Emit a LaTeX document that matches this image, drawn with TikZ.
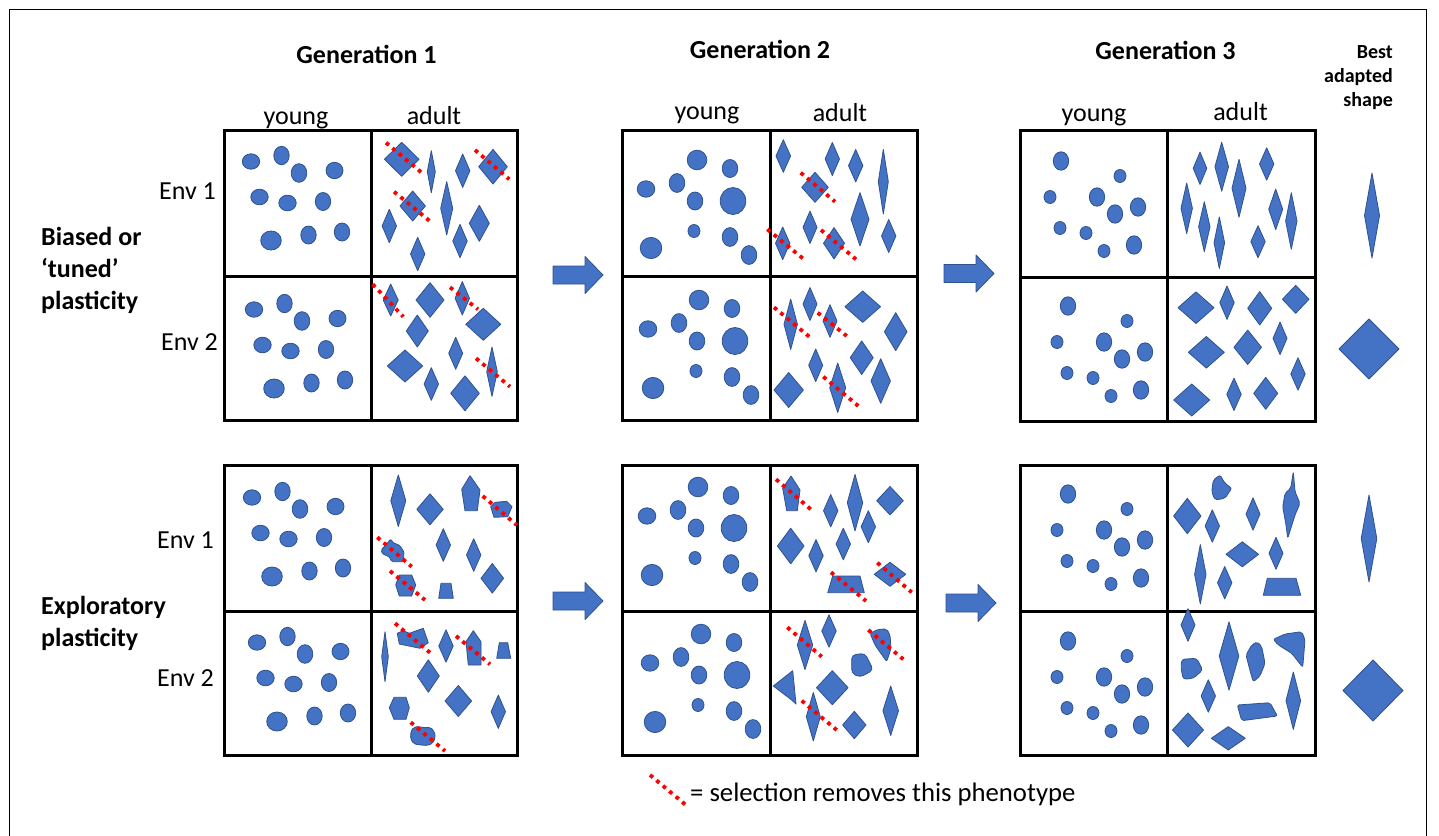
\documentclass[tikz,border=0pt]{standalone}
\usepackage{fontspec}
\setmainfont{Carlito}
\definecolor{blu}{HTML}{4472C4}
\definecolor{blued}{HTML}{2F528F}
\tikzset{
  shp/.style={fill=blu,draw=blued,line width=0.8pt,line join=round},
  selx/.style={draw=red,line width=3.8pt,dash pattern=on 3.8pt off 4.6pt},
  gridbox/.style={draw=black,line width=3pt},
  lab/.style={font=\fontsize{26}{30}\selectfont,inner sep=0pt},
  blab/.style={font=\fontsize{26}{30}\selectfont\bfseries,inner sep=0pt},
  slab/.style={font=\fontsize{20}{24}\selectfont\bfseries,inner sep=0pt}
}
\newcommand\dm[4]{\path[shp] (#1-#3,#2) -- (#1,#2-#4) -- (#1+#3,#2) -- (#1,#2+#4) -- cycle;}
\newcommand\ov[4]{\path[shp] (#1,#2) ellipse [x radius=#3, y radius=#4];}
\newcommand\sel[4]{\path[selx] (#1,#2) -- (#3,#4);}
\newcommand\blk[2]{\path[shp] (#1,#2-9) -- (#1+32,#2-9) -- (#1+32,#2-18.5) -- (#1+50,#2) -- (#1+32,#2+18.5) -- (#1+32,#2+9) -- (#1,#2+9) -- cycle;}
\newcommand\grd[6]{\path[gridbox] (#1,#4) rectangle (#3,#6) (#2,#4) -- (#2,#6) (#1,#5) -- (#3,#5);}
\newcommand\yA{\ov{27}{31.5}{8.7}{7.7}\ov{57.5}{25.5}{7.7}{9.2}\ov{75}{43}{7.8}{9.3}\ov{110.5}{40.5}{8.5}{8.2}\ov{35.5}{67}{8.7}{7.8}\ov{63.5}{73}{8.7}{7.8}\ov{99}{71.5}{7.7}{9}\ov{47}{110.5}{10.3}{9.5}\ov{84.5}{105}{7.7}{9}\ov{118}{102}{7.7}{9}}
\newcommand\yB{\ov{75}{30}{9.8}{9.8}\ov{108}{38.5}{7.8}{9}\ov{24}{59}{8.8}{8.2}\ov{55}{53}{7.8}{9.4}\ov{73}{71}{7.8}{9}\ov{111}{71}{12.8}{13.5}\ov{72}{101}{6}{6.5}\ov{108}{107}{7.8}{9.4}\ov{29}{118}{10.8}{10.6}\ov{127}{125}{7.8}{9.4}}
\newcommand\yC{\ov{41}{31}{7.7}{9.2}\ov{100}{46}{6}{6.5}\ov{30}{67}{6}{6.5}\ov{77}{67}{7.7}{9.2}\ov{95}{84}{7.7}{9.2}\ov{118}{77}{7.7}{9.2}\ov{40}{98}{6}{6.5}\ov{66}{103}{6}{6.5}\ov{84}{121}{6}{6.5}\ov{114}{115}{7.7}{9.2}}
\begin{document}
\begin{tikzpicture}[x=1pt,y=-1pt]
\useasboundingbox (0,0) rectangle (1439,835);
\fill[white] (0,0) rectangle (1439,835);
% outer frame
\draw[line width=1.5pt] (9.5,840) -- (9.5,9.5) -- (1426.5,9.5) -- (1426.5,840);
% grids
\grd{224}{371}{517}{130}{276}{420}
\grd{622}{770}{917}{130}{276}{420}
\grd{1020}{1167}{1315}{130}{277}{421}
\grd{224}{371}{517}{465}{611}{755}
\grd{622}{770}{917}{465}{611}{755}
\grd{1020}{1167}{1315}{465}{611}{755}
% young
\begin{scope}[shift={(224,130)}]\yA\end{scope}
\begin{scope}[shift={(227,278)}]\yA\end{scope}
\begin{scope}[shift={(225,466)}]\yA\end{scope}
\begin{scope}[shift={(230,611)}]\yA\end{scope}
\begin{scope}[shift={(622,130)}]\yB\end{scope}
\begin{scope}[shift={(624,270)}]\yB\end{scope}
\begin{scope}[shift={(623,457)}]\yB\end{scope}
\begin{scope}[shift={(626,604)}]\yB\end{scope}
\begin{scope}[shift={(1020,130)}]\yC\end{scope}
\begin{scope}[shift={(1027,275)}]\yC\end{scope}
\begin{scope}[shift={(1027,463)}]\yC\end{scope}
\begin{scope}[shift={(1027,610)}]\yC\end{scope}
% gen1 top adult
\dm{401.7}{159.3}{17.3}{17}\dm{431.3}{171.7}{4}{21}\dm{462.7}{170.7}{7.2}{16.7}\dm{493}{166.7}{14.3}{17.3}
\dm{412.7}{206}{12.7}{15}\dm{446.7}{208.3}{6}{26.7}\dm{479.3}{223.3}{10}{18}\dm{389.3}{226}{7.2}{16.7}
\dm{460}{241}{7.2}{16.7}\dm{417.7}{254}{7.2}{16.7}
% gen1 bottom adult
\dm{390.7}{300}{7.5}{16}\dm{430}{300}{14}{17.3}\dm{462.3}{298.3}{7.2}{16.7}\dm{483.3}{324.3}{17.5}{16}
\dm{417.3}{331}{11}{16}\dm{455.7}{353.3}{7}{16}\dm{405}{366}{17.7}{16}\dm{492}{371.7}{5.3}{24.7}
\dm{431.3}{384}{7.2}{16.3}\dm{465}{393.3}{14.3}{17.5}
% gen2 top adult
\dm{783.3}{156}{7.3}{16.3}\dm{832.3}{159}{7.2}{16.5}\dm{855.7}{165.7}{7.2}{16.2}\dm{883.3}{181.7}{5}{32.3}
\dm{815}{187.3}{13.3}{15}\dm{860}{219.3}{9}{26.7}\dm{810}{227.3}{7}{16.2}\dm{782.7}{243.3}{7.2}{16.3}
\dm{834}{243.3}{10.5}{15.7}\dm{888.7}{236}{7.2}{16.5}
% gen2 bottom adult
\dm{790.7}{324.3}{6.7}{25.2}\dm{810}{304}{7}{16.5}\dm{830}{321}{7}{16.3}\dm{862.7}{306.7}{17.8}{15.7}
\dm{895.7}{331.7}{11.3}{19}\dm{861.7}{357.7}{11.5}{16.8}\dm{815.7}{365.3}{7}{16.3}\dm{788.7}{390}{14.7}{17.5}
\dm{837.7}{387.7}{8}{24.7}\dm{880.7}{381}{9.7}{22.3}
% gen3 top adult
\dm{1200}{168.3}{6.8}{16.2}\dm{1221.7}{166.7}{6.8}{24.5}\dm{1239}{188.3}{7}{29}\dm{1266.7}{164}{7.2}{16.2}
\dm{1186.7}{208.3}{5.7}{25.3}\dm{1204.3}{226.7}{5.7}{25}\dm{1219.3}{242.7}{5.3}{25.8}\dm{1275.7}{209.3}{7}{20.3}
\dm{1291.3}{221}{5.7}{28.3}\dm{1258}{241.7}{7.2}{16}
% gen3 bottom adult
\dm{1196}{307.7}{18}{15.8}\dm{1227}{302.7}{7.2}{16.7}\dm{1259.7}{308.3}{12}{16.7}\dm{1295.7}{299.3}{13.3}{14}
\dm{1206.3}{352.3}{18}{15.8}\dm{1247.7}{347.3}{13.8}{17.2}\dm{1280}{338.3}{7}{16.3}\dm{1298}{374}{7.2}{16.2}
\dm{1191.7}{400}{18}{16}\dm{1234}{394.3}{7.2}{16.2}\dm{1265.7}{393.3}{12}{16}
% best adapted
\dm{1372}{215.5}{7.5}{42.5}\dm{1369}{349}{30}{30}\dm{1369}{538.5}{7.8}{43.5}\dm{1373}{690.5}{30}{30.5}
% lower gen1 top adult
\dm{398.3}{500.7}{7.5}{25.8}\dm{430}{509.3}{13.2}{15.5}
\path[shp] (470,475.7)--(480,490)--(477.3,510.7)--(465,510.7)--(461.7,489.3)--cycle;
\path[shp] (490.7,506.7)--(495,502.3)--(506.7,501.3)--(512,506.7)--(507.7,516.7)--(494,517.3)--cycle;
\dm{443.3}{545}{7.2}{16.3}\dm{473.7}{555}{7.2}{16.3}\dm{492.3}{578.3}{11.3}{14.8}
\path[shp,rounded corners=1.5pt] (381,550)--(385,546)--(391,538.7)--(392.7,542.7)--(399.3,545)--(404,551.7)--(403.3,561.7)--(391.7,561.7)--(389.3,556.7)--(382.7,554)--cycle;
\path[shp] (399.3,575)--(411.7,575)--(415.7,585)--(411.7,596)--(399.3,596)--(395.7,585)--cycle;
\path[shp] (441,583.3)--(451,583.3)--(453.3,598.3)--(438.7,598.3)--cycle;
% lower gen1 bottom adult
\dm{385}{656.7}{3.3}{25}
\path[shp] (397.3,633.3)--(403.3,630.7)--(409.3,633.3)--(423.3,628.3)--(428.3,642.7)--(420,648.3)--(399.3,644)--cycle;
\dm{446}{646}{7.2}{16.2}
\path[shp] (473.3,630.7)--(481,641.7)--(481,665)--(468.3,665)--(466,641.7)--cycle;
\path[shp] (499.3,642.7)--(507.7,642.7)--(510.7,658.3)--(496.7,658.3)--cycle;
\dm{428.3}{676}{11}{16.2}
\path[shp] (394,697.3)--(406,697.3)--(409.3,707.7)--(406,719.3)--(394,719.3)--(389.3,707.7)--cycle;
\dm{458.3}{701}{13.3}{15.5}\dm{498.3}{711.7}{7.2}{16.7}
\path[shp,rounded corners=2pt] (411,731)--(414,727)--(420,726.5)--(424,728)--(430,727)--(434,731)--(435.5,737)--(433,743)--(428,745.5)--(421,745)--(414,744)--(410.5,739)--cycle;
% lower gen2 top adult
\path[shp] (791,476)--(800,490)--(797.3,510.7)--(786.7,510.7)--(782.7,488.3)--cycle;
\dm{830.7}{510.7}{7.2}{16.2}\dm{855}{502.7}{7.7}{28.3}\dm{890}{500.7}{13.3}{14.2}\dm{868.3}{526.7}{7.2}{16}
\dm{790.7}{546}{13.3}{17.8}\dm{816}{555.7}{7.2}{16.2}\dm{843.3}{544}{7.2}{15.8}
\path[shp] (832.7,576)--(860,576)--(864.3,592.7)--(827.7,592.7)--cycle;
\dm{890}{574.3}{15.8}{12}
% lower gen2 bottom adult
\dm{805}{645}{7.7}{24.7}\dm{829}{631}{7.2}{16.2}
\path[shp,rounded corners=2pt] (870,633.3)--(878.3,629.3)--(886.7,629)--(890,635)--(891,648.3)--(886.7,661.7)--(875,645)--cycle;
\path[shp,rounded corners=4pt] (851.7,655)--(865,653.3)--(873.3,670)--(860,677.3)--(851.7,673.3)--cycle;
\path[shp] (773.3,686)--(792.7,670.7)--(796,704)--(791.7,700)--cycle;
\dm{832.3}{687.7}{15.8}{17}\dm{813.3}{716.7}{7}{24.2}\dm{854.3}{725}{11.7}{13.7}\dm{890.7}{710.7}{7.8}{24.7}
% lower gen3 top adult
\path[shp,rounded corners=2pt] (1213.3,480)--(1220,475)--(1225,483.3)--(1231.7,488.3)--(1225,498.3)--(1215,500)--(1211.7,491.7)--cycle;
\dm{1187.3}{516}{13.7}{17.7}\dm{1212.3}{526}{7.2}{16.2}\dm{1253}{514}{7}{16.2}
\path[shp,rounded corners=2pt] (1293.3,471.7)--(1295,491.7)--(1300,503.3)--(1295,515)--(1287.7,538.3)--(1286,525)--(1282.7,506.7)--(1285,493.3)--(1290.7,488.3)--cycle;
\dm{1242.3}{554.3}{16.3}{12.5}\dm{1276}{553.3}{7}{16}\dm{1200.3}{574.3}{5.7}{29.7}\dm{1224.7}{582.7}{7.2}{16.2}
\path[shp] (1267.3,578.3)--(1296,578.3)--(1300.7,595.3)--(1263.3,595.3)--cycle;
% lower gen3 bottom adult
\dm{1188}{625}{7}{16.3}\dm{1229}{656}{9.8}{34.2}
\path[shp,rounded corners=2pt] (1246,655)--(1251.7,645)--(1257.3,641.7)--(1261.7,646.7)--(1265,663.3)--(1260,676)--(1253.3,681.7)--(1250.7,673.3)--cycle;
\path[shp,rounded corners=2pt] (1273.3,639.3)--(1285,634)--(1301.7,631.7)--(1305,640)--(1302.7,667.3)--(1291.7,653.3)--(1278.3,645)--cycle;
\path[shp,rounded corners=3pt] (1181.7,659.3)--(1196.7,658.3)--(1202.7,670)--(1193.3,678.3)--(1183.3,679.3)--(1181,668.3)--cycle;
\dm{1208.3}{696}{7.2}{16.2}
\path[shp,rounded corners=2pt] (1237.3,705)--(1270,702.7)--(1277.3,716)--(1241.7,720.7)--cycle;
\dm{1293.3}{700.7}{7.3}{28.7}\dm{1188}{730}{15.5}{17}\dm{1228.3}{738.3}{17}{11.7}
% block arrows
\blk{553}{275}\blk{944}{273.5}\blk{553}{601}\blk{946}{603}
% selection lines
\sel{386}{142.7}{421.7}{172.7}\sel{475}{150}{509.3}{179.3}\sel{394}{191.7}{429.3}{220.7}
\sel{372.7}{284.3}{403.3}{316.7}\sel{450}{287.3}{478}{309.3}\sel{476}{358.3}{510}{386.7}
\sel{800.7}{172.7}{835}{201.7}\sel{767.3}{229.3}{802.7}{258.3}\sel{821}{230}{856}{259.3}
\sel{774}{307.3}{809.3}{336.7}\sel{817.7}{312.7}{846.7}{336}\sel{823.3}{376.7}{858.3}{406}
\sel{482.7}{496}{516.7}{525}\sel{377.3}{537.3}{411.7}{566.7}\sel{390}{571}{425}{600}
\sel{395}{623.3}{430}{652.7}\sel{456}{636}{490}{664.3}\sel{410.7}{722.3}{445}{751}
\sel{776}{479.3}{810.7}{509.3}\sel{831}{572.3}{866}{601}\sel{877.3}{562.7}{911.7}{592.3}
\sel{787.3}{627.3}{821.7}{656.7}\sel{868.3}{630}{903.3}{659.3}\sel{801.7}{700.7}{836.7}{730}
\sel{650}{775}{687}{806}
% texts
\node[blab,anchor=base] (gen1) at (366.5,63) {Generation 1};
\node[blab,anchor=base] (gen2) at (760,58) {Generation 2};
\node[blab,anchor=base] (gen3) at (1165.5,59) {Generation 3};
\node[lab,anchor=base] (y1) at (296,124) {young};
\node[lab,anchor=base] (a1) at (434,124) {adult};
\node[lab,anchor=base] (y2) at (707,119) {young};
\node[lab,anchor=base] (a2) at (840,121) {adult};
\node[lab,anchor=base] (y3) at (1094,121) {young};
\node[lab,anchor=base] (a3) at (1240.5,120) {adult};
\node[lab,anchor=base east] (e1) at (216,199) {Env 1};
\node[lab,anchor=base east] (e2) at (218,350) {Env 2};
\node[lab,anchor=base east] (e3) at (214,548) {Env 1};
\node[lab,anchor=base east] (e4) at (214,686) {Env 2};
\node[blab,anchor=base west] (b1) at (41,245) {Biased or};
\node[blab,anchor=base west] (b2) at (41,277) {‘tuned’};
\node[blab,anchor=base west] (b3) at (41,309) {plasticity};
\node[blab,anchor=base west] (x1) at (41,614) {Exploratory};
\node[blab,anchor=base west] (x2) at (41,646) {plasticity};
\node[slab,anchor=base east] (s1) at (1393,58) {Best};
\node[slab,anchor=base east] (s2) at (1393,82) {adapted};
\node[slab,anchor=base east] (s3) at (1393,106) {shape};
\node[lab,anchor=base west,font=\fontsize{26.7}{30}\selectfont] (leg) at (690,801) {= selection removes this phenotype};
\end{tikzpicture}
\end{document}
